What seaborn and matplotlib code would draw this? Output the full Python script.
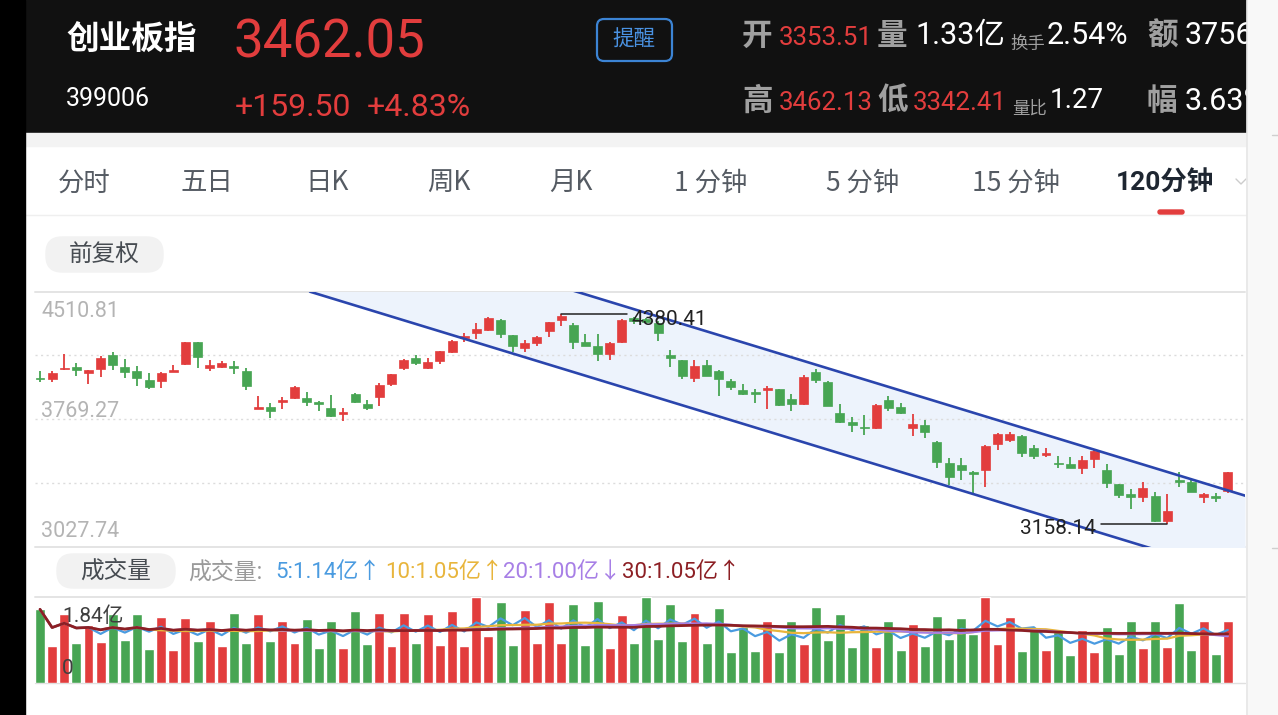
import numpy as np
import pandas as pd
import matplotlib
matplotlib.use("Agg")
import matplotlib.pyplot as plt
from matplotlib.patches import Rectangle, FancyBboxPatch
import seaborn as sns

# 120-minute candles, oldest first
opens = [4011.2, 4001.5, 4059.6, 4075.1, 4040.2, 4061.6, 4142.9, 4075.1, 4051.9, 3997.6,
         3993.8, 4046.1, 4090.6, 4216.5, 4069.3, 4075.1, 4079.0, 4051.9, 3829.1, 3842.7,
         3871.7, 3891.1, 3895.0, 3871.7, 3836.9, 3798.1, 3918.2, 3858.2, 3900.8, 3974.4,
         4065.5, 4123.6, 4069.3, 4110.0, 4158.4, 4239.8, 4272.7, 4288.2, 4346.3, 4259.2,
         4185.5, 4210.7, 4282.4, 4346.3, 4317.3, 4216.5, 4197.2, 4146.8, 4220.4, 4356.0,
         4350.2, 4327.0, 4142.9, 4113.9, 4011.2, 4084.8, 4050.0, 3993.8, 3939.5, 3929.8,
         3939.5, 3945.3, 3887.2, 3856.2, 4042.2, 3988.0, 3807.8, 3751.6, 3726.4, 3716.8,
         3881.4, 3838.8, 3720.6, 3736.1, 3639.3, 3517.2, 3503.7, 3464.9, 3474.6, 3625.7,
         3649.0, 3674.1, 3600.5, 3561.8, 3517.2, 3507.5, 3484.3, 3538.5, 3474.6, 3391.3,
         3333.1, 3315.7, 3325.4, 3180.1, 3416.5, 3402.9, 3319.6, 3325.4, 3353.51]
highs = [4050.0, 4050.0, 4146.8, 4094.5, 4057.7, 4137.1, 4158.4, 4119.7, 4080.9, 4036.4,
         4046.1, 4084.8, 4218.5, 4218.5, 4113.9, 4110.0, 4108.1, 4065.5, 3904.7, 3862.0,
         3900.8, 3964.7, 3926.0, 3873.7, 3910.5, 3836.9, 3920.2, 3881.4, 3978.3, 4032.5,
         4119.7, 4142.9, 4127.4, 4168.1, 4230.1, 4272.7, 4327.0, 4361.8, 4352.2, 4261.1,
         4230.1, 4255.3, 4336.7, 4380.41, 4327.0, 4263.0, 4265.0, 4220.4, 4350.2, 4365.7,
         4359.9, 4340.5, 4172.0, 4115.8, 4113.9, 4113.9, 4055.7, 4001.5, 3972.5, 3945.3,
         3964.7, 3947.3, 3914.3, 4026.7, 4059.6, 3991.8, 3856.2, 3780.7, 3794.3, 3856.2,
         3904.7, 3862.0, 3798.1, 3765.2, 3641.2, 3546.3, 3546.3, 3470.7, 3619.9, 3687.7,
         3697.4, 3678.0, 3619.9, 3600.5, 3557.9, 3552.1, 3557.9, 3590.8, 3507.5, 3393.2,
         3364.2, 3406.8, 3348.7, 3333.1, 3461.0, 3416.5, 3339.0, 3339.0, 3462.13]
lows = [3988.0, 3988.0, 4057.7, 4022.8, 3974.4, 4017.0, 4055.7, 4011.2, 3962.8, 3945.3,
        3949.2, 4044.1, 4084.8, 4069.3, 4051.9, 4065.5, 4030.6, 3937.6, 3827.2, 3778.7,
        3827.2, 3887.2, 3848.5, 3817.5, 3784.6, 3759.4, 3862.0, 3825.2, 3846.5, 3964.7,
        4055.7, 4084.8, 4061.6, 4088.7, 4152.6, 4220.4, 4235.9, 4282.4, 4243.7, 4162.3,
        4162.3, 4197.2, 4245.6, 4313.4, 4177.8, 4193.3, 4108.1, 4113.9, 4210.7, 4321.2,
        4327.0, 4224.3, 4075.1, 4003.5, 3988.0, 4020.9, 3906.6, 3939.5, 3910.5, 3862.0,
        3827.2, 3848.5, 3817.5, 3854.3, 3982.2, 3846.5, 3745.8, 3697.4, 3678.0, 3714.8,
        3819.4, 3798.1, 3674.1, 3662.5, 3488.2, 3387.4, 3416.5, 3339.0, 3373.9, 3590.8,
        3635.4, 3552.1, 3538.5, 3552.1, 3488.2, 3484.3, 3449.4, 3488.2, 3371.9, 3309.9,
        3247.9, 3290.6, 3174.3, 3158.14, 3377.7, 3344.8, 3280.9, 3290.6, 3342.41]
closes = [4001.5, 4040.2, 4069.3, 4055.7, 4055.7, 4127.4, 4084.8, 4042.2, 4007.3, 3955.0,
          4036.4, 4055.7, 4216.5, 4133.2, 4084.8, 4098.4, 4065.5, 3964.7, 3842.7, 3817.5,
          3881.4, 3958.9, 3871.7, 3858.2, 3790.4, 3813.6, 3867.8, 3836.9, 3968.6, 4030.6,
          4113.9, 4098.4, 4100.3, 4166.2, 4224.3, 4255.3, 4294.0, 4359.9, 4263.0, 4197.2,
          4210.7, 4249.5, 4332.8, 4369.6, 4216.5, 4195.2, 4146.8, 4214.6, 4346.3, 4340.5,
          4332.8, 4268.8, 4127.4, 4022.8, 4080.9, 4022.8, 4003.5, 3955.0, 3916.3, 3916.3,
          3953.1, 3852.4, 3858.2, 4017.0, 3997.6, 3848.5, 3755.5, 3736.1, 3716.8, 3852.4,
          3836.9, 3807.8, 3740.0, 3697.4, 3523.0, 3435.9, 3474.6, 3449.4, 3616.0, 3681.9,
          3681.9, 3571.5, 3557.9, 3575.3, 3507.5, 3488.2, 3532.7, 3585.0, 3397.1, 3329.3,
          3319.6, 3371.9, 3180.1, 3236.3, 3406.8, 3348.7, 3333.1, 3309.9, 3462.05]
# volume, 亿
volumes = [1.57, 0.79, 1.46, 0.86, 1.23, 0.88, 1.48, 0.91, 1.46, 0.73,
           1.41, 0.71, 1.38, 0.89, 1.32, 0.79, 1.49, 0.86, 1.46, 0.90,
           1.31, 0.84, 1.36, 0.74, 1.31, 0.74, 1.53, 0.83, 1.49, 0.79,
           1.49, 0.86, 1.48, 0.81, 1.54, 0.79, 1.83, 0.99, 1.73, 0.81,
           1.56, 0.86, 1.72, 0.84, 1.69, 0.81, 1.75, 0.75, 1.45, 0.86,
           1.83, 0.93, 1.69, 0.90, 1.50, 0.86, 1.59, 0.65, 1.20, 0.68,
           1.31, 0.66, 1.33, 0.82, 1.63, 0.92, 1.48, 0.77, 1.23, 0.77,
           1.32, 0.69, 1.25, 0.78, 1.42, 0.94, 1.38, 1.05, 1.83, 0.82,
           1.41, 0.68, 1.19, 0.71, 1.08, 0.60, 1.12, 0.66, 1.19, 0.61,
           1.33, 0.74, 1.32, 0.77, 1.70, 0.71, 1.31, 0.61, 1.32]

# price axis labels and the drawn channel (bar index, price)
price_top, price_mid, price_bottom = 4510.81, 3769.27, 3027.74
grid_prices = [4140.04, 3769.27, 3398.50]
channel_x = [22.28, 99.42]
channel_upper = [4983.8, 3325.2]
channel_lower = [4510.81, 2852.3]
vol_top_label = 1.84

ma_periods = [5, 10, 20, 30]
ma_colors = ['#4a9be0', '#e8b53c', '#a77fe6', '#8c1f24']
ma_legend = ['5:1.14亿↑', '10:1.05亿↑', '20:1.00亿↓', '30:1.05亿↑']

tabs = ['分时', '五日', '日K', '周K', '月K', '1 分钟', '5 分钟', '15 分钟', '120分钟']
tab_x = [58, 180, 305, 427, 549, 674, 826, 972, 1116]

RED = '#e23d3d'
GREEN = '#47a553'
W, H = 1278, 715

sns.set_style('white')
CJK = ['Noto Sans CJK SC', 'DejaVu Sans']
NUM = ['Roboto', 'Noto Sans CJK SC', 'DejaVu Sans']
plt.rcParams['font.family'] = CJK

df = pd.DataFrame({'idx': np.arange(len(closes)), 'open': opens, 'high': highs,
                   'low': lows, 'close': closes, 'vol': volumes})
df['dir'] = np.where(df['close'] >= df['open'], 'up', 'down')
pal = {'up': RED, 'down': GREEN}


def box(x0, y0, x1, y1):
    return [x0 / W, 1 - y1 / H, (x1 - x0) / W, (y1 - y0) / H]


fig = plt.figure(figsize=(W / 100, H / 100), dpi=100)
fig.patch.set_facecolor('white')

# page chrome in pixel coordinates
bg = fig.add_axes([0, 0, 1, 1])
bg.set_xlim(0, W)
bg.set_ylim(H, 0)
bg.axis('off')

bg.add_patch(Rectangle((0, 0), 1247, 133, color='#111111', zorder=1))
bg.add_patch(Rectangle((0, 0), 25, H, color='black', zorder=11))
bg.add_patch(Rectangle((25, 133), 1222, 13, color='#f3f3f3', zorder=1))
bg.plot([25, 1247], [215, 215], color='#efefef', lw=1, zorder=2)

# header
bg.text(66, 40, '创业板指', color='white', fontsize=23.5, fontweight='bold', family=CJK, va='center')
bg.text(233, 43, '3462.05', color=RED, fontsize=38, family=NUM, va='center')
bg.text(66, 99, '399006', color='white', fontsize=18, family=NUM, va='center')
bg.text(235, 108, '+159.50', color=RED, fontsize=23, family=NUM, va='center')
bg.text(367, 108, '+4.83%', color=RED, fontsize=23, family=NUM, va='center')
bg.add_patch(FancyBboxPatch((597, 19), 75, 42, boxstyle='round,pad=0,rounding_size=7',
                            fc='none', ec='#3c84d4', lw=1.6, zorder=3))
bg.text(634, 40, '提醒', color='#4a92e2', fontsize=15.5, family=CJK, ha='center', va='center')

grey_h = '#a0a0a0'
for y, items in [(36, [(742, '开', grey_h, 22, 'bold'), (779, '3353.51', RED, 18.6, 'normal'),
                       (877, '量', grey_h, 22, 'bold'), (915, '1.33亿', 'white', 22, 'normal'),
                       (1047, '2.54%', 'white', 22, 'normal'), (1147, '额', grey_h, 22, 'bold'),
                       (1185, '3756', 'white', 22, 'normal')]),
                 (101, [(742, '高', grey_h, 22, 'bold'), (779, '3462.13', RED, 18.6, 'normal'),
                        (877, '低', grey_h, 22, 'bold'), (913, '3342.41', RED, 18.6, 'normal'),
                        (1050, '1.27', 'white', 20, 'normal'), (1147, '幅', grey_h, 22, 'bold'),
                        (1185, '3.63%', 'white', 22, 'normal')])]:
    for x, s, c, fs, fw in items:
        bg.text(x, y + (2 if c == RED else 0), s, color=c, fontsize=fs, fontweight=fw,
                family=NUM, va='center', zorder=4)
bg.text(1010, 44, '换手', color=grey_h, fontsize=12.5, family=CJK, va='center')
bg.text(1012, 109, '量比', color=grey_h, fontsize=12.5, family=CJK, va='center')

# period tabs
for x, s in zip(tab_x, tabs):
    sel = s == '120分钟'
    bg.text(x, 183, s, color='#1e2631' if sel else '#555b63', fontsize=19,
            fontweight='bold' if sel else 'medium', family=NUM if sel else CJK, va='center')
bg.add_patch(FancyBboxPatch((1158, 210), 26, 4, boxstyle='round,pad=0,rounding_size=2',
                            color=RED, zorder=3))
bg.plot([1236, 1241, 1246], [179, 184, 179], color='#cccccc', lw=1, zorder=3)

bg.add_patch(FancyBboxPatch((46, 237), 117, 35, boxstyle='round,pad=0,rounding_size=16',
                            color='#f2f2f2', zorder=2))
bg.text(104.5, 254, '前复权', color='#474c52', fontsize=17, fontweight='medium', family=CJK,
        ha='center', va='center')

# pane borders
for y in [291.7, 546.8, 596.7]:
    bg.plot([35, 1245], [y, y], color='#e4e4e4', lw=1.4, zorder=2)
bg.plot([35, 1245], [682.7, 682.7], color='#e0e0e0', lw=1, zorder=2)

# volume legend row
bg.add_patch(FancyBboxPatch((57, 554), 118, 34, boxstyle='round,pad=0,rounding_size=16',
                            color='#f2f2f2', zorder=2))
bg.text(116, 571, '成交量', color='#474c52', fontsize=17, fontweight='medium', family=CJK,
        ha='center', va='center')
bg.text(188, 573, '成交量:', color='#9a9a9a', fontsize=16.5, family=NUM, va='center')
for x, s, c in zip([275, 385, 503, 622], ma_legend, ma_colors):
    bg.text(x, 573, s, color=c, fontsize=16, family=NUM, va='center')

# right side strip
bg.add_patch(Rectangle((1247, 0), 31, H, color='#f8f8f8', zorder=10))
bg.plot([1247, 1247], [0, H], color='#e6e6e6', lw=1.2, zorder=10)
for y in [135, 548]:
    bg.plot([1272, 1278], [y, y], color='#cfcfcf', lw=1, zorder=10)

# price pane
xlim = (-0.4125, 99.42)
ax = fig.add_axes(box(35, 291.7, 1245, 546.8))
ax.set_facecolor('none')
ax.set_xlim(*xlim)
ax.set_ylim(price_bottom, price_top)
ax.axis('off')

for gp in grid_prices:
    ax.axhline(gp, color='#dcdcdc', lw=1, ls=(0, (1.5, 2.5)), zorder=1)

ax.fill_between(channel_x, channel_lower, channel_upper, color='#edf3fc', lw=0, zorder=0)
ax.plot(channel_x, channel_upper, color='#2a45ad', lw=1.9, zorder=5)
ax.plot(channel_x, channel_lower, color='#2a45ad', lw=1.9, zorder=5)

colors = df['dir'].map(pal)
ax.vlines(df['idx'], df['low'], df['high'], colors=colors, lw=1.3, zorder=3)
ax.bar(df['idx'], (df['close'] - df['open']).abs(), bottom=df[['open', 'close']].min(axis=1),
       width=0.74, color=colors, edgecolor=colors, lw=0.5, zorder=4)

hi = int(df['high'].idxmax())
lo = int(df['low'].idxmin())
ax.plot([hi, hi + 5.4], [df['high'][hi]] * 2, color='#222222', lw=1.1, zorder=6)
ax.annotate(f"{df['high'][hi]:.2f}", xy=(hi, df['high'][hi]), xytext=(70, -5),
            textcoords='offset pixels', color='#222222', fontsize=15, family=NUM, va='center', zorder=7)
ax.plot([lo, lo - 5.5], [df['low'][lo]] * 2, color='#222222', lw=1.1, zorder=6)
ax.annotate(f"{df['low'][lo]:.2f}", xy=(lo, df['low'][lo]), xytext=(-71, -4),
            textcoords='offset pixels', color='#222222', fontsize=15, family=NUM,
            ha='right', va='center', zorder=7)

for p, dy in [(price_top, 19.5), (price_mid, -8), (price_bottom, -15)]:
    ax.annotate(f'{p:.2f}', xy=(0, p), xycoords=('axes fraction', 'data'), xytext=(6, -dy),
                textcoords='offset pixels', color='#b4b4b4', fontsize=15.5, family=NUM,
                va='center', zorder=7)

# volume pane
av = fig.add_axes(box(35, 596.7, 1245, 682.7))
av.set_facecolor('none')
sns.barplot(data=df, x='idx', y='vol', hue='dir', palette=pal, dodge=False, legend=False,
            width=0.82, saturation=1, errorbar=None, ax=av)
vol = pd.Series(volumes)
for n, c in zip(ma_periods, ma_colors):
    sns.lineplot(x=df['idx'].to_numpy(), y=vol.rolling(n, min_periods=1).mean().to_numpy(),
                 color=c, lw=1.6 if n < 30 else 2.0, ax=av, zorder=5)
av.set_xlim(*xlim)
av.set_ylim(0, vol_top_label)
av.axis('off')
av.text(62, 616, f'{vol_top_label:.2f}亿', transform=bg.transData, color='#3f3f3f', fontsize=15,
        family=NUM, va='center', zorder=10, clip_on=False)
av.text(62, 669, '0', transform=bg.transData, color='#3f3f3f', fontsize=15, family=NUM,
        va='center', zorder=10, clip_on=False)

fig.savefig('out.png', dpi=100, facecolor='white')
